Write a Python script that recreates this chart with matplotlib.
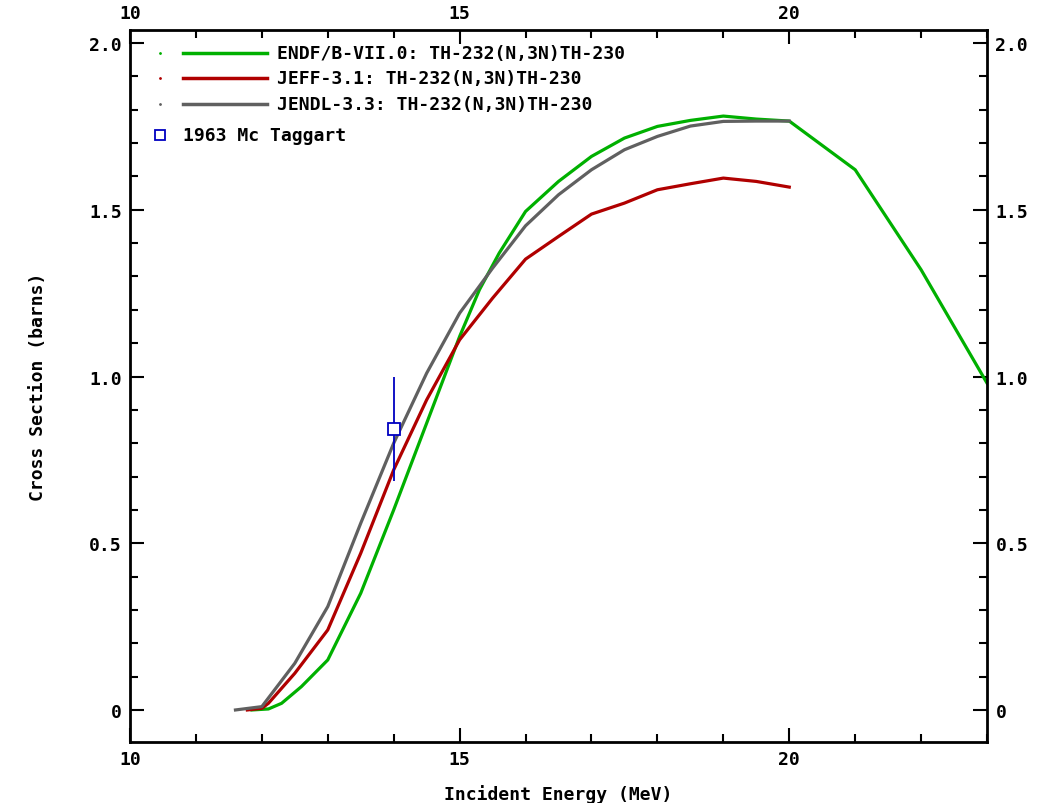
import numpy as np
import matplotlib.pyplot as plt
from matplotlib.ticker import MultipleLocator, FuncFormatter

# data (energy in MeV, cross section in barns)
endf_e = [11.85, 12.1, 12.3, 12.6, 13.0, 13.5, 14.0, 14.5, 15.0, 15.3, 15.6, 16.0, 16.5,
          17.0, 17.5, 18.0, 18.5, 19.0, 19.5, 20.0, 21.0, 22.0, 23.0]
endf_xs = [0.0, 0.003, 0.02, 0.07, 0.15, 0.35, 0.60, 0.86, 1.12, 1.26, 1.37, 1.495, 1.585,
           1.66, 1.715, 1.75, 1.768, 1.781, 1.772, 1.766, 1.62, 1.32, 0.98]

jeff_e = [11.78, 12.0, 12.1, 12.5, 13.0, 13.5, 14.0, 14.5, 15.0, 15.5, 16.0, 16.5,
          17.0, 17.5, 18.0, 18.5, 19.0, 19.5, 20.0]
jeff_xs = [0.0, 0.005, 0.02, 0.11, 0.24, 0.47, 0.72, 0.93, 1.11, 1.235, 1.352, 1.42,
           1.487, 1.52, 1.56, 1.578, 1.595, 1.585, 1.568]

jendl_e = [11.6, 12.0, 12.5, 13.0, 13.5, 14.0, 14.5, 15.0, 15.5, 16.0, 16.5,
           17.0, 17.5, 18.0, 18.5, 19.0, 19.5, 20.0]
jendl_xs = [0.0, 0.01, 0.14, 0.31, 0.56, 0.80, 1.01, 1.19, 1.325, 1.452, 1.545,
            1.62, 1.68, 1.72, 1.751, 1.765, 1.766, 1.766]

exp_e = [14.0]
exp_xs = [0.843]
exp_err = [0.155]

labels = ["ENDF/B-VII.0: TH-232(N,3N)TH-230",
          "JEFF-3.1: TH-232(N,3N)TH-230",
          "JENDL-3.3: TH-232(N,3N)TH-230",
          "1963 Mc Taggart"]
colors = ["#00b000", "#b00000", "#606060"]
blue = "#0000c0"

plt.rcParams['font.family'] = ['DejaVu Sans Mono']
plt.rcParams['font.weight'] = 'bold'
fs = 13

fig = plt.figure(figsize=(10.39, 8.04), dpi=100)
ax = fig.add_axes([0.1251, 0.0759, 0.8249, 0.8855])

ax.plot(endf_e, endf_xs, color=colors[0], lw=2.3)
ax.plot(jeff_e, jeff_xs, color=colors[1], lw=2.3)
ax.plot(jendl_e, jendl_xs, color=colors[2], lw=2.3)
ax.errorbar(exp_e, exp_xs, yerr=exp_err, fmt='s', mfc='white', mec=blue,
            ecolor=blue, ms=8, mew=1.3, elinewidth=1.3, capsize=0, zorder=5)

ax.set_xlim(10, 23)
ax.set_ylim(-0.096, 2.039)

ax.xaxis.set_major_locator(MultipleLocator(5))
ax.xaxis.set_minor_locator(MultipleLocator(1))
ax.yaxis.set_major_locator(MultipleLocator(0.5))
ax.yaxis.set_minor_locator(MultipleLocator(0.1))
ax.yaxis.set_major_formatter(FuncFormatter(lambda v, p: "0" if abs(v) < 1e-9 else f"{v:.1f}"))

ax.tick_params(which='both', direction='in', top=True, right=True,
               labeltop=True, labelright=True, labelsize=fs, width=1.5)
ax.tick_params(which='major', length=10, pad=6)
ax.tick_params(which='minor', length=6)
for s in ax.spines.values():
    s.set_linewidth(2)
    s.set_color('black')

ax.set_xlabel("Incident Energy (MeV)", fontsize=fs, fontweight='bold', labelpad=11)
ax.set_ylabel("Cross Section (barns)", fontsize=fs, fontweight='bold', labelpad=30)

# legend drawn by hand: small dot, line sample, label
rows = [0.968, 0.933, 0.896]
for y, c, lab in zip(rows, colors, labels[:3]):
    ax.plot([0.035], [y], marker='.', ms=2, color=c, transform=ax.transAxes, clip_on=False)
    ax.plot([0.062, 0.160], [y, y], color=c, lw=2.5, transform=ax.transAxes)
    ax.text(0.1715, y, lab, fontsize=fs, va='center', ha='left', transform=ax.transAxes)
ax.plot([0.035], [0.853], marker='s', ms=7, mfc='white', mec=blue, mew=1.3,
        transform=ax.transAxes)
ax.text(0.062, 0.853, labels[3], fontsize=fs, va='center', ha='left', transform=ax.transAxes)

fig.savefig("out.png", dpi=100)
